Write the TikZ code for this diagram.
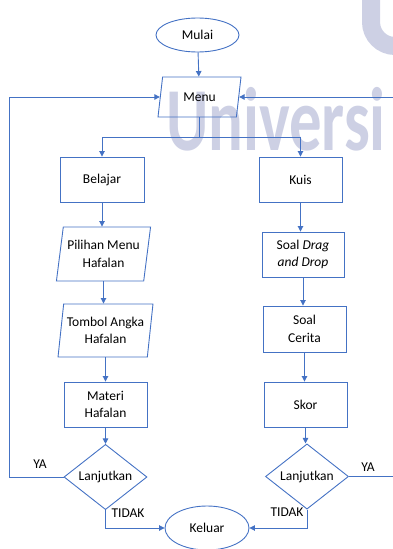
\documentclass[tikz,border=0pt]{standalone}
\usepackage{fontspec}
\setmainfont{Carlito}
\usetikzlibrary{shapes.geometric,arrows.meta}
\definecolor{ln}{HTML}{4472C4}
\definecolor{wm}{RGB}{205,208,228}
\begin{document}
\begin{tikzpicture}[x=1pt,y=-1pt,
  base/.style={draw=ln, line width=0.9pt, inner sep=0pt, align=center, text=black,
    font=\fontsize{13.5}{17.3}\selectfont},
  term/.style={base, ellipse, minimum width=83, minimum height=34},
  io/.style={base, trapezium, trapezium left angle=77, trapezium right angle=103,
    trapezium stretches=true},
  proc/.style={base, rectangle, minimum width=83, minimum height=45},
  dec/.style={base, diamond, minimum width=83, minimum height=44},
  arr/.style={draw=ln, line width=0.9pt, -{Triangle[width=5.5pt,length=5.5pt]}},
  lbl/.style={inner sep=0pt, text=black, font=\fontsize{13.5}{16}\selectfont},
  wmtext/.style={inner sep=0pt, text=wm, font=\fontsize{90}{90}\selectfont\bfseries}
]
\path[use as bounding box, clip] (0,0) rectangle (393,549);

% watermark
\node[wmtext, anchor=base west] (wmark) at (166,150) {\scalebox{0.72}[1]{Universi}};
\draw[wm, line width=18pt] (371,-5) -- (371,22) arc[start angle=180, end angle=90, radius=24] -- (430,46);

% nodes
\node[term] (mulai) at (197.5,35) {Mulai};
\node[io, minimum width=83, minimum height=40] (menu) at (199.5,97) {Menu};
\node[proc, minimum width=84] (belajar) at (102,179.5) {Belajar};
\node[proc] (kuis) at (300.5,179.5) {Kuis};
\node[io, minimum width=95, minimum height=54] (pilihan) at (103.5,254) {Pilihan Menu\\Hafalan};
\node[io, minimum width=95, minimum height=53, trapezium left angle=79, trapezium right angle=101] (tombol) at (105.5,330.5) {Tombol Angka\\Hafalan};
\node[proc, minimum width=82] (drag) at (303,254.5) {Soal \textit{Drag}\\\textit{and Drop}};
\node[proc, minimum height=46] (cerita) at (304.5,329) {Soal\\Cerita};
\node[proc] (materi) at (105.5,404.5) {Materi\\Hafalan};
\node[proc] (skor) at (305.5,404.5) {Skor};
\node[dec] (d1) at (105.5,477) {Lanjutkan};
\node[dec] (d2) at (307,476.5) {Lanjutkan};
\node[term, minimum width=84, minimum height=44] (keluar) at (207,528) {Keluar};

% labels
\node[lbl] (ya1) at (40,464) {YA};
\node[lbl] (tidak1) at (128,513) {TIDAK};
\node[lbl] (ya2) at (368,467) {YA};
\node[lbl] (tidak2) at (287,512) {TIDAK};

\coordinate (lft) at (9,0);
\coordinate (rgt) at (430,0);

% connectors
\draw[arr] (mulai) -- (menu);
\draw[arr] (menu.south) -- ++(0,20) coordinate (j) -| (belajar.north);
\draw[arr] (j) -| (kuis.north);
\draw[arr] (belajar.south) -- (belajar.south |- pilihan.north);
\draw[arr] (pilihan.south) -- (pilihan.south |- tombol.north);
\draw[arr] (tombol.south) -- (tombol.south |- materi.north);
\draw[arr] (materi.south) -- (materi.south |- d1.north);
\draw[arr] (kuis.south) -- (kuis.south |- drag.north);
\draw[arr] (drag.south) -- (drag.south |- cerita.north);
\draw[arr] (cerita.south) -- (cerita.south |- skor.north);
\draw[arr] (skor.south) -- (skor.south |- d2.north);
\draw[arr] (d1.west) -- (d1.west -| lft) |- (menu.west);
\draw[arr] (d2.east) -- (d2.east -| rgt) |- (menu.east);
\draw[arr] (d1.south) |- (keluar.west);
\draw[arr] (d2.south) |- (keluar.east);
\end{tikzpicture}
\end{document}
